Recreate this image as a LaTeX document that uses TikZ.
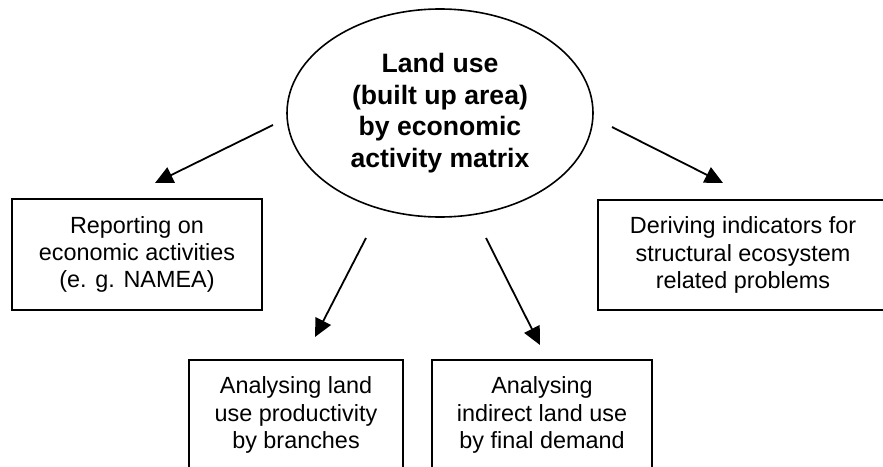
\documentclass[tikz,border=0pt]{standalone}
\usepackage{fontspec}
\setmainfont{Liberation Sans}
\usetikzlibrary{arrows.meta,shapes.geometric}
\tikzset{
  >={Triangle[length=9pt,width=8.5pt]},
  box/.style={rectangle,draw,align=center,inner sep=0pt,font=\fontsize{11.7}{13.6}\selectfont},
  hub/.style={ellipse,draw,line width=0.8pt,align=center,inner sep=0pt,minimum width=153pt,minimum height=104pt,font=\fontsize{13.3}{15.85}\selectfont\bfseries},
  every picture/.style={line width=0.9pt},
}
\begin{document}
\begin{tikzpicture}[x=0.5pt,y=-0.5pt]
\useasboundingbox (0,0) rectangle (883,466);
\clip (0,0) rectangle (883,466);
\node[hub] (land) at (440,113) {Land use\\(built up area)\\by economic\\activity matrix};
\node[box,minimum width=125pt,minimum height=55.5pt] (report) at (137,254.5) {Reporting on\\economic activities\\(e. g. NAMEA)};
\node[box,minimum width=145pt,minimum height=55pt] (derive) at (743,255) {Deriving indicators for\\structural ecosystem\\related problems};
\node[box,minimum width=107pt,minimum height=55pt] (prod) at (296,415) {Analysing land\\use productivity\\by branches};
\node[box,minimum width=110pt,minimum height=55pt] (indirect) at (542,415) {Analysing\\indirect land use\\by final demand};
\foreach \n/\x/\y in {s1/273/125,t1/155/183,s2/612/127,t2/723/183,s3/366/238,t3/315/337,s4/486/238,t4/540/345}{\coordinate (\n) at (\x,\y);}
\foreach \i in {1,...,4}{\draw[->] (s\i)--(t\i);}
\end{tikzpicture}
\end{document}
